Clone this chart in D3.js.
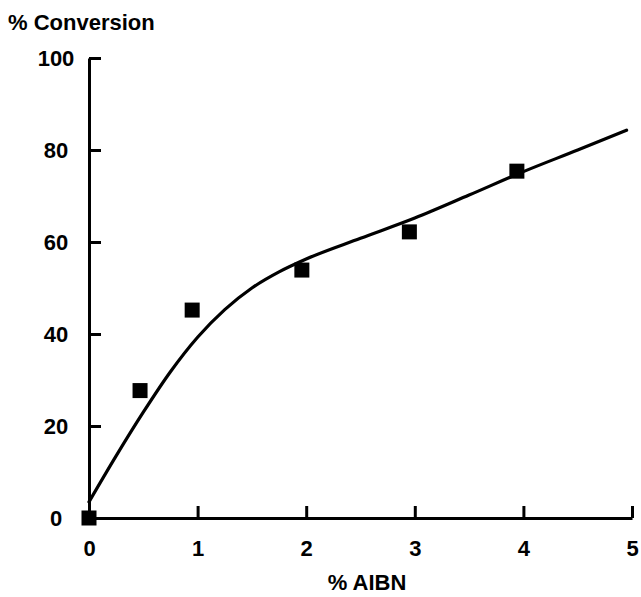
<!DOCTYPE html>
<html>
<head>
<meta charset="utf-8">
<script src="https://cdn.jsdelivr.net/npm/d3@7"></script>
<style>
  body { margin: 0; background: #fff; }
  svg { display: block; }
  text { font-family: "Liberation Sans", Arial, sans-serif; font-weight: bold; fill: #000; }
</style>
</head>
<body>
<svg id="chart"></svg>
<script>
// measured points
const aibn = [0, 0.47, 0.95, 1.96, 2.95, 3.94];
const conversion = [0, 27.7, 45.2, 53.9, 62.2, 75.4];

// fitted curve
const curveX = [0, 0.25, 0.5, 0.75, 1, 1.25, 1.5, 1.75, 2, 2.5, 3, 3.5, 4, 4.5, 4.95];
const curveY = [3.5, 13.5, 23, 31.8, 39.3, 45.3, 50, 53.5, 56.3, 60.8, 65.2, 70.2, 75.3, 80, 84.3];

const xTicks = [0, 1, 2, 3, 4, 5];
const yTicks = [0, 20, 40, 60, 80, 100];

const width = 641, height = 597;

const svg = d3.select("#chart")
    .attr("width", width)
    .attr("height", height);

const x = d3.scaleLinear().domain([0, 5]).range([89, 632]);
const y = d3.scaleLinear().domain([0, 100]).range([518, 58]);

// x axis, ticks pointing inward
const xAxis = svg.append("g")
    .attr("transform", `translate(0, ${y(0)})`)
    .call(d3.axisBottom(x).tickValues(xTicks).tickFormat(d3.format("d"))
        .tickSize(-12).tickSizeOuter(0).tickPadding(22));

// y axis
const yAxis = svg.append("g")
    .attr("transform", `translate(${x(0)}, 0)`)
    .call(d3.axisLeft(y).tickValues(yTicks).tickFormat(d3.format("d"))
        .tickSize(-12).tickSizeOuter(0).tickPadding(33));

[xAxis, yAxis].forEach(g => {
    g.select(".domain").attr("stroke", "#000").attr("stroke-width", 3);
    g.selectAll(".tick line").attr("stroke", "#000").attr("stroke-width", 3);
    g.selectAll(".tick text").style("font-size", "22px");
});
yAxis.selectAll(".tick text").attr("text-anchor", "middle");
xAxis.selectAll(".tick").filter(d => d === 0).select("line").remove();
yAxis.selectAll(".tick").filter(d => d === 0).select("line").remove();

// fitted curve
const line = d3.line()
    .x(d => x(d[0]))
    .y(d => y(d[1]))
    .curve(d3.curveMonotoneX);

svg.append("path")
    .datum(d3.zip(curveX, curveY))
    .attr("d", line)
    .attr("fill", "none")
    .attr("stroke", "#000")
    .attr("stroke-width", 3.2)
    .attr("stroke-linecap", "round");

// square markers
const s = 15;
svg.append("g")
    .selectAll("rect")
    .data(d3.zip(aibn, conversion))
    .join("rect")
    .attr("x", d => x(d[0]) - s / 2)
    .attr("y", d => y(d[1]) - s / 2)
    .attr("width", s)
    .attr("height", s)
    .attr("fill", "#000");

// axis titles
svg.append("text")
    .attr("x", 8)
    .attr("y", 30)
    .style("font-size", "22px")
    .text("% Conversion");

svg.append("text")
    .attr("x", 367)
    .attr("y", 590)
    .attr("text-anchor", "middle")
    .style("font-size", "22px")
    .text("% AIBN");
</script>
</body>
</html>
